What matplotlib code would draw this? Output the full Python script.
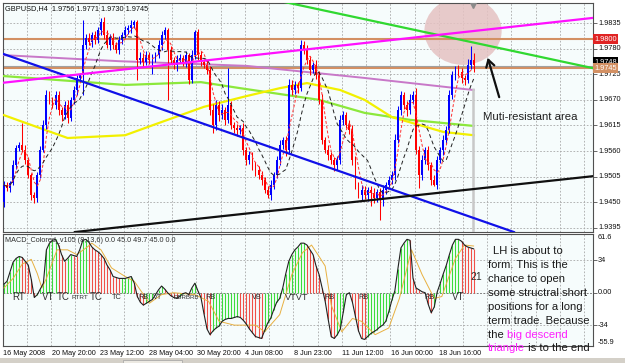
import matplotlib
matplotlib.use('Agg')
import matplotlib.pyplot as plt
import matplotlib.transforms as mtrans
from matplotlib.patches import Ellipse, Rectangle
import numpy as np
import pandas as pd

plt.rcParams['font.family'] = ['Liberation Sans', 'DejaVu Sans']

# ---------------- data ----------------
title = 'GBPUSD,H4  1.9756 1.9771 1.9730 1.9745'
macd_title = 'MACD_Colored_v105 (8,13,6) 0.0 45.0 49.7 45.0 0.0'

first_open = 1.9450
closes = [
    1.9487, 1.9481, 1.9491, 1.9530, 1.9566, 1.9573, 1.9562, 1.9541, 1.9508, 1.9465,
    1.9459, 1.9508, 1.9562, 1.9616, 1.9680, 1.9670, 1.9659, 1.9680, 1.9648, 1.9637,
    1.9659, 1.9631, 1.9670, 1.9691, 1.9717, 1.9723, 1.9788, 1.9803, 1.9794, 1.9809,
    1.9799, 1.9820, 1.9837, 1.9809, 1.9788, 1.9803, 1.9788, 1.9777, 1.9799, 1.9809,
    1.9820, 1.9824, 1.9831, 1.9837, 1.9756, 1.9760, 1.9751, 1.9766, 1.9756, 1.9760,
    1.9766, 1.9788, 1.9809, 1.9820, 1.9777, 1.9756, 1.9745, 1.9756, 1.9760, 1.9751,
    1.9766, 1.9713, 1.9766, 1.9816, 1.9766, 1.9751, 1.9745, 1.9734, 1.9648, 1.9616,
    1.9659, 1.9637, 1.9648, 1.9627, 1.9659, 1.9616, 1.9609, 1.9605, 1.9609, 1.9562,
    1.9541, 1.9551, 1.9530, 1.9519, 1.9508, 1.9498, 1.9476, 1.9465, 1.9487, 1.9508,
    1.9541, 1.9573, 1.9584, 1.9562, 1.9702, 1.9691, 1.9702, 1.9695, 1.9788, 1.9777,
    1.9756, 1.9734, 1.9745, 1.9723, 1.9670, 1.9584, 1.9562, 1.9551, 1.9541, 1.9530,
    1.9541, 1.9627, 1.9637, 1.9616, 1.9605, 1.9541, 1.9487, 1.9465, 1.9476, 1.9465,
    1.9476, 1.9470, 1.9459, 1.9472, 1.9455, 1.9476, 1.9487, 1.9498, 1.9508, 1.9584,
    1.9648, 1.9680, 1.9659, 1.9648, 1.9670, 1.9680, 1.9562, 1.9508, 1.9541, 1.9562,
    1.9530, 1.9498, 1.9487, 1.9541, 1.9562, 1.9584, 1.9605, 1.9680, 1.9723, 1.9734,
    1.9730, 1.9717, 1.9713, 1.9745, 1.9756, 1.9745]

upper_wick_pips = [
    8, 6, 5, 10, 8, 6, 47, 10, 6, 5,
    8, 6, 8, 10, 12, 8, 6, 10, 8, 6,
    8, 10, 6, 8, 6, 5, 53, 8, 10, 6,
    8, 6, 9, 10, 12, 8, 10, 6, 8, 6,
    8, 6, 10, 4, 5, 12, 10, 8, 6, 8,
    6, 10, 8, 6, 5, 8, 6, 10, 8, 6,
    8, 5, 10, 4, 6, 8, 6, 10, 8, 12,
    10, 8, 12, 6, 79, 8, 6, 10, 8, 12,
    6, 10, 8, 6, 8, 10, 6, 8, 10, 6,
    8, 10, 6, 8, 12, 10, 8, 6, 11, 8,
    10, 8, 6, 10, 8, 12, 6, 10, 8, 6,
    8, 10, 8, 6, 10, 12, 8, 6, 10, 8,
    6, 8, 10, 6, 8, 10, 6, 8, 10, 12,
    8, 10, 6, 8, 12, 10, 15, 8, 10, 6,
    8, 6, 10, 8, 6, 10, 8, 12, 10, 8,
    10, 8, 6, 12, 29, 15]

lower_wick_pips = [
    10, 6, 8, 5, 8, 6, 5, 8, 6, 10,
    11, 8, 6, 5, 8, 10, 6, 8, 10, 12,
    8, 10, 6, 8, 10, 6, 43, 8, 6, 10,
    8, 6, 10, 8, 6, 10, 8, 6, 8, 10,
    6, 8, 10, 6, 43, 10, 8, 6, 10, 30,
    8, 6, 10, 8, 107, 10, 8, 12, 6, 8,
    10, 8, 6, 8, 10, 8, 6, 8, 10, 18,
    10, 12, 8, 10, 6, 8, 10, 12, 8, 10,
    11, 8, 10, 12, 8, 10, 6, 6, 10, 8,
    6, 10, 8, 12, 6, 10, 8, 10, 6, 8,
    8, 10, 6, 8, 10, 8, 6, 10, 8, 12,
    10, 8, 12, 6, 8, 10, 8, 6, 10, 8,
    12, 28, 10, 8, 43, 12, 8, 6, 8, 10,
    6, 10, 8, 12, 8, 10, 8, 27, 10, 8,
    10, 12, 3, 8, 6, 10, 8, 6, 8, 10,
    8, 10, 12, 6, 8, 15]

# moving averages (bar index, price)
purple_bars = [0, 38, 80, 119, 155]
purple_vals = [1.9766, 1.9753, 1.9743, 1.9717, 1.9691]
green_bars = [0, 40, 65, 78, 104, 119, 134, 155]
green_vals = [1.9721, 1.9702, 1.9708, 1.9695, 1.9670, 1.9642, 1.9627, 1.9614]
yellow_bars = [0, 9, 21, 40, 51, 66, 80, 91, 100, 111, 119, 128, 145, 155]
yellow_vals = [1.9637, 1.9616, 1.9588, 1.9594, 1.9620, 1.9655, 1.9678, 1.9695,
               1.9706, 1.9691, 1.9670, 1.9633, 1.9601, 1.9594]

# trend lines (bar, price) endpoints
blue_tl = ([-1.3, 168.3], [1.9771, 1.9386])
green_tl = ([89.8, 194.4], [1.9884, 1.9738])
magenta_tl = ([-1.3, 194.4], [1.9706, 1.9846])
black_tl = ([23.4, 194.4], [1.9386, 1.9506])
h_levels = [1.9800, 1.9738]
grey_level = 1.9742

# MACD
macd = [
    9, 12, 22, 32, 36, 38, 37, 33, 29, 14,
    -5, -2, 4, 10, 45, 52, 55, 56, 50, 40,
    33, 36, 40, 39, 38, 45, 55, 56, 53, 48,
    45, 43, 40, 36, 29, 24, 17, 16, 15, 15,
    15, 16, 17, 10, -4, -10, -13, -11, -9, -7,
    -2, 3, 7, 4, 0, -3, -5, -6, -4, -1,
    0, -2, 5, 10, 2, -5, -22, -38, -44, -40,
    -37, -35, -30, -28, -27, -27, -26, -25, -26, -29,
    -33, -38, -42, -46, -47, -48, -40, -32, -27, -18,
    -10, -6, 5, 20, 33, 40, 45, 48, 52, 52,
    50, 45, 40, 28, 19, 5, -9, -28, -46, -48,
    -44, -38, -20, -2, 0, -10, -25, -40, -48, -49,
    -46, -43, -41, -39, -36, -34, -30, -20, -8, 2,
    25, 47, 52, 56, 55, 15, 5, 3, 1, 0,
    -12, -21, -15, 1, 10, 20, 29, 40, 50, 56,
    56, 54, 50, 48, 47, 46]
sig_bars = [0, 3, 6, 9, 11, 12.5, 14, 17.5, 21, 24, 27.5, 29, 32, 35.5, 40, 43, 48, 52, 56, 63,
            67.5, 71, 76, 83, 86, 91, 95, 98.5, 101.5, 104, 106, 108, 111.5, 115, 118, 122.5, 127,
            130.5, 134.5, 138, 142, 144.5, 149, 152, 155]
sig_vals = [5, 15, 30, 35, 20, 5, 15, 45, 45, 40, 48, 52, 45, 26, 17, 12, -11, -2, 0, -2,
            -9, -30, -34, -34, -41, -23, 19, 42, 50, 38, 28, -13, -41, -27, -30, -44, -37,
            -6, 45, 19, -6, -4, 36, 50, 49]

macd_marks = [('RT', 2.6, 7), ('VT', 12.5, 7), ('TC', 17.3, 7), ('RTRT', 22.3, 4.6),
              ('TC', 28.4, 7), ('TC', 35.6, 5.3), ('RB', 44.2, 5.3), ('VT', 49.2, 5.3),
              ('RBRBRB', 55.8, 4.4), ('RB', 66.3, 5.3),
              ('VB', 81.8, 5.3), ('VTVT', 92.7, 6.6), ('RB', 105.9, 5.3),
              ('RB', 116.8, 5.3), ('RB', 138.9, 5.3), ('VT', 147.9, 7)]

price_ticks = [1.9835, 1.9780, 1.9725, 1.9670, 1.9615, 1.9560, 1.9505, 1.9450, 1.9395]
macd_ticks = [61.6, 34, 0.0, -34, -55.9]
macd_tick_labels = ['61.6', '34', '0.00', '-34', '-55.9']
date_labels = ['16 May 2008', '20 May 20:00', '23 May 12:00', '28 May 04:00', '30 May 20:00',
               '4 Jun 08:00', '8 Jun 23:00', '11 Jun 12:00', '16 Jun 00:00', '18 Jun 16:00']

note_lines = [
    [('LH is about to', 'd')],
    [('form. This is the', 'd')],
    [('chance to open', 'd')],
    [('some structral short', 'd')],
    [('positions for a long', 'd')],
    [('term trade. Because', 'd')],
    [('the ', 'd'), ('big descend', 'm')],
    [('triangle', 'm'), (' is to the end', 'd')],
]

# ---------------- figure ----------------
W, H = 625, 363
fig = plt.figure(figsize=(W / 100, H / 100), dpi=100)
fig.patch.set_facecolor('white')


def rect(l, t, r, b):
    return [l / W, 1 - b / H, (r - l) / W, (b - t) / H]


bg = '#F6FCFC'
gridc = '#A8A8A8'
ax = fig.add_axes(rect(3, 3, 593, 232))
ax2 = fig.add_axes(rect(3, 234, 593, 346))
for a in (ax, ax2):
    a.set_facecolor(bg)
    for s in a.spines.values():
        s.set_color('#505050')
        s.set_linewidth(0.8)
    a.set_xlim(-0.33, 194.4)
    a.set_axisbelow(True)
    a.yaxis.tick_right()
    a.tick_params(axis='y', length=3, width=0.6, color='#505050', labelright=False, labelleft=False)
    a.tick_params(axis='x', length=0, labelbottom=False)
    a.set_xticks([8 * k - 0.5 for k in range(1, 25)])
    a.grid(True, ls=(0, (2, 2)), color=gridc, lw=0.6)

ax.set_ylim(1.93861, 1.98780)
ax.set_yticks(price_ticks)
ax2.set_ylim(-55.9, 61.6)
ax2.set_yticks([34, 0, -34])

# candles
n = len(closes)
idx = np.arange(n)
c = np.array(closes)
o = np.array([first_open] + closes[:-1])
hi = np.maximum(o, c) + np.array(upper_wick_pips) * 0.0001
lo = np.minimum(o, c) - np.array(lower_wick_pips) * 0.0001
cols = np.where(c >= o, '#0000FF', '#FF0000')
ax.vlines(idx, lo, hi, colors=cols, lw=0.75, zorder=4)
ax.bar(idx, np.maximum(np.abs(c - o), 0.00006), bottom=np.minimum(o, c), width=0.62,
       color=cols, lw=0, zorder=4)

# pink resistance blob
ax.add_patch(Ellipse((151.5, 1.9818), 25.5, 0.0146, fc='#E5C2C2', ec='none', alpha=0.85, zorder=1))

# horizontal levels
for lv in h_levels:
    ax.axhline(lv, color='#D39063', lw=1.5, zorder=2)
ax.axhline(grey_level, color='#A0A0A0', lw=0.8, zorder=2)

# MAs
ax.plot(purple_bars, purple_vals, color='#C878C8', lw=1.4, zorder=3)
ax.plot(green_bars, green_vals, color='#8CE83C', lw=1.6, zorder=3)
ax.plot(yellow_bars, yellow_vals, color='#F2F000', lw=1.6, zorder=3)
s = pd.Series(closes)
ax.plot(idx, s.rolling(4, min_periods=1).mean(), color='#FF3030', lw=0.7, ls=(0, (3, 2)), zorder=5)
ax.plot(idx, s.rolling(10, min_periods=1).mean(), color='#202020', lw=0.7, ls=(0, (4, 3)), zorder=5)

# trend lines
ax.plot(*blue_tl, color='#1010E8', lw=1.6, zorder=6)
ax.plot(*green_tl, color='#30D830', lw=1.6, zorder=6)
ax.plot(*magenta_tl, color='#FF10FF', lw=1.6, zorder=6)
ax.plot(*black_tl, color='#101010', lw=1.6, zorder=6)

# current-bar marker line
ax.vlines(154.8, 1.9386, 1.9695, color='#C8C8C8', lw=1.8, zorder=3)
ax.plot([154.8], [1.9874], marker='v', ms=4, color='#8A8A8A', zorder=7)

# arrow and text
ax.annotate('', xy=(159.4, 1.9766), xytext=(163.7, 1.9670),
            arrowprops=dict(arrowstyle='->,head_length=0.5,head_width=0.3', color='#101010', lw=1.6),
            zorder=8)
ax.text(158.1, 1.9633, 'Muti-resistant area', fontsize=8.2, color='#202020', ha='left', va='center', zorder=8)

# right axis labels
bt = mtrans.blended_transform_factory(ax.transAxes, ax.transData)
for p in price_ticks:
    ax.text(1.0085, p, f'{p:.4f}', transform=bt, fontsize=5.3, va='center', ha='left', color='#101010')
box = dict(boxstyle='square,pad=0.18', ec='none')
ax.text(1.0025, 1.9800, '1.9800', transform=bt, fontsize=5.3, va='center', ha='left', color='white',
        bbox=dict(box, fc='#E02424'), clip_on=False)
ax.text(1.0025, 1.9751, '1.9748', transform=bt, fontsize=5.3, va='center', ha='left', color='white',
        bbox=dict(box, fc='#000000'), clip_on=False)
ax.text(1.0025, 1.9738, '1.9745', transform=bt, fontsize=5.3, va='center', ha='left', color='white',
        bbox=dict(box, fc='#D39063'), clip_on=False)
bt2 = mtrans.blended_transform_factory(ax2.transAxes, ax2.transData)
for v, lab in zip(macd_ticks, macd_tick_labels):
    va = 'top' if v > 60 else ('bottom' if v < -55 else 'center')
    ax2.text(1.0085, v, lab, transform=bt2, fontsize=5.3, va=va, ha='left', color='#101010')

# titles
fig.text(5 / W, 1 - 8.5 / H, title, fontsize=5.3, va='center', ha='left', color='#101010')
fig.text(5 / W, 1 - 240 / H, macd_title, fontsize=5.2, va='center', ha='left', color='#303030')

# MACD
m = np.array(macd, dtype=float)
mcol = ['#3CDC3C' if (i == 0 or m[i] >= m[i - 1]) else '#F05048' for i in range(n)]
ax2.vlines(idx, 0, m, colors=mcol, lw=0.8, zorder=2)
ax2.plot(idx, m, color='#202020', lw=0.8, zorder=4)
ax2.plot(sig_bars, sig_vals, color='#E8B040', lw=0.7, zorder=3)
ax2.axhline(0, color='#707070', lw=0.6, ls=(0, (2, 2)), zorder=1)
for txt, b, fs in macd_marks:
    ax2.text(b, -5, txt, fontsize=fs, ha='left', va='center', color='#303030', zorder=5)
ax2.text(153.8, 17, '21', fontsize=7.5, ha='left', va='center', color='#303030', zorder=5)

# date labels
bx = mtrans.blended_transform_factory(ax2.transData, ax2.transAxes)
for k, lab in enumerate(date_labels):
    ax2.text(16 * k - 0.3, -0.035, lab, transform=bx, fontsize=5.2, ha='left', va='top', color='#101010',
             clip_on=False)

# note text
dark, mag = '#1A1A1A', '#FF20FF'
note_y = [251, 265, 279, 293, 307, 321, 335, 348]
note_x = [493, 488, 488, 488, 488, 488, 488, 488]
for segs, yy, xx in zip(note_lines, note_y, note_x):
    prev = None
    for txt, cc in segs:
        col = mag if cc == 'm' else dark
        if prev is None:
            prev = fig.text(xx / W, 1 - yy / H, txt, fontsize=8.1, color=col, ha='left', va='center',
                            zorder=10)
        else:
            prev = ax2.annotate(txt, xy=(1, 0), xycoords=prev, fontsize=8.1, color=col,
                                ha='left', va='bottom', zorder=10, annotation_clip=False)

# bottom strip
fig.patches.append(Rectangle((0, 0), 1, 5 / H, transform=fig.transFigure, fc='#D4D0C8', ec='none'))
fig.patches.append(Rectangle((123 / W, 0), 59 / W, 3.5 / H, transform=fig.transFigure, fc='#ECE9E2',
                             ec='#A0A0A0', lw=0.5))

fig.savefig('out.png', dpi=100, facecolor=fig.get_facecolor())
